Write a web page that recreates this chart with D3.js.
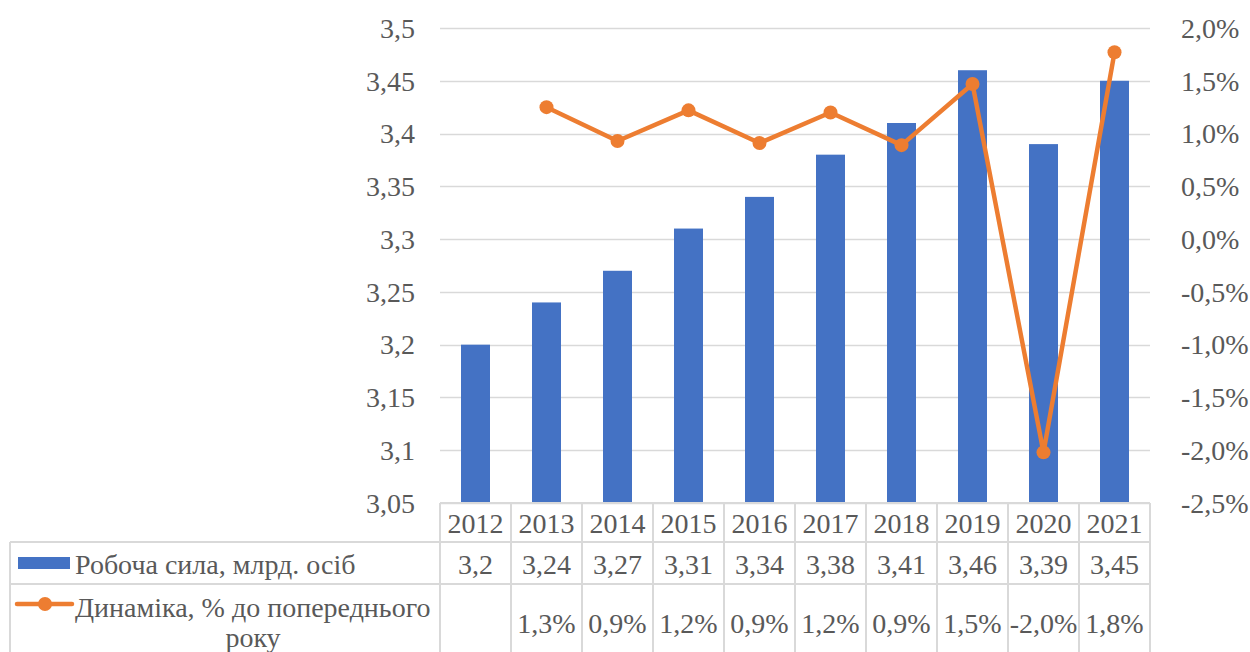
<!DOCTYPE html>
<html>
<head>
<meta charset="utf-8">
<script src="https://cdn.jsdelivr.net/npm/d3@7"></script>
</head>
<body style="margin:0">
<div id="chart"></div>
<script>
var years = ['2012', '2013', '2014', '2015', '2016', '2017', '2018', '2019', '2020', '2021'];
var labour = [3.2, 3.24, 3.27, 3.31, 3.34, 3.38, 3.41, 3.46, 3.39, 3.45]; // млрд. осіб
var dynamics = [null, 1.25, 0.93, 1.22, 0.91, 1.2, 0.89, 1.47, -2.02, 1.77]; // %
var leftTicks = [3.05, 3.1, 3.15, 3.2, 3.25, 3.3, 3.35, 3.4, 3.45, 3.5];
var rightTicks = [-2.5, -2, -1.5, -1, -0.5, 0, 0.5, 1, 1.5, 2];
var seriesNames = ['Робоча сила, млрд. осіб', 'Динаміка, % до попереднього', 'року'];

var w = 1250, h = 652;
var plotLeft = 440, plotRight = 1150, plotTop = 28, plotBottom = 503;
var fontSize = 28;
var gridColor = '#d9d9d9';

var comma = function (v, d) { return v.toFixed(d).replace('.', ','); };

var svg = d3.select('#chart').append('svg').attr('width', w).attr('height', h);

var x = d3.scaleBand().domain(years).range([plotLeft, plotRight]).paddingInner(0).paddingOuter(0);
var y = d3.scaleLinear().domain([3.05, 3.5]).range([plotBottom, plotTop]);
var y2 = d3.scaleLinear().domain([-2.5, 2]).range([plotBottom, plotTop]);

// helper: place a text at (tx, ty)
function label(g, tx, ty, anchor, str) {
  return g.append('text')
    .attr('x', tx)
    .attr('y', ty)
    .attr('dy', '0.35em')
    .attr('text-anchor', anchor)
    .style('font-family', "'Liberation Serif', 'Times New Roman', serif")
    .style('font-size', fontSize + 'px')
    .style('fill', '#595959')
    .text(str);
}

// gridlines
svg.append('g')
  .selectAll('line')
  .data(leftTicks)
  .enter()
  .append('line')
  .attr('x1', plotLeft).attr('x2', plotRight)
  .attr('y1', function (d) { return Math.round(y(d)) + 0.5; })
  .attr('y2', function (d) { return Math.round(y(d)) + 0.5; })
  .attr('stroke', gridColor).attr('stroke-width', 1.5);

// axis labels
var axisG = svg.append('g');
leftTicks.forEach(function (d) { label(axisG, 415, y(d), 'end', String(d).replace('.', ',')); });
rightTicks.forEach(function (d) { label(axisG, 1181, y2(d), 'start', comma(d, 1) + '%'); });

// bars
var barW = 29;
svg.append('g')
  .selectAll('rect')
  .data(labour)
  .enter()
  .append('rect')
  .attr('x', function (d, i) { return x(years[i]) + x.bandwidth() / 2 - barW / 2; })
  .attr('y', function (d) { return y(d); })
  .attr('width', barW)
  .attr('height', function (d) { return plotBottom - y(d); })
  .attr('fill', '#4472c4');

// line
var pts = dynamics.map(function (d, i) { return { v: d, yr: years[i] }; }).filter(function (d) { return d.v !== null; });
var line = d3.line()
  .x(function (d) { return x(d.yr) + x.bandwidth() / 2; })
  .y(function (d) { return y2(d.v); });
svg.append('path')
  .datum(pts)
  .attr('d', line)
  .attr('fill', 'none')
  .attr('stroke', '#ed7d31')
  .attr('stroke-width', 4.5)
  .attr('stroke-linejoin', 'round');
svg.append('g')
  .selectAll('circle')
  .data(pts)
  .enter()
  .append('circle')
  .attr('cx', function (d) { return x(d.yr) + x.bandwidth() / 2; })
  .attr('cy', function (d) { return y2(d.v); })
  .attr('r', 7)
  .attr('fill', '#ed7d31');

//---- data table
var row1 = 542, row2 = 584, tableBottom = 660;
var table = svg.append('g').attr('stroke', gridColor).attr('stroke-width', 2);
table.append('line').attr('x1', plotLeft).attr('x2', plotRight).attr('y1', plotBottom).attr('y2', plotBottom);
table.append('line').attr('x1', 10).attr('x2', plotRight).attr('y1', row1).attr('y2', row1);
table.append('line').attr('x1', 10).attr('x2', plotRight).attr('y1', row2).attr('y2', row2);
table.append('line').attr('x1', 10).attr('x2', 10).attr('y1', row1).attr('y2', tableBottom);
table.selectAll('line.v')
  .data(years.concat(['end']))
  .enter()
  .append('line')
  .attr('class', 'v')
  .attr('x1', function (d, i) { return plotLeft + i * x.bandwidth(); })
  .attr('x2', function (d, i) { return plotLeft + i * x.bandwidth(); })
  .attr('y1', plotBottom).attr('y2', tableBottom);

var cx = function (i) { return x(years[i]) + x.bandwidth() / 2; };
var tableG = svg.append('g');
years.forEach(function (d, i) { label(tableG, cx(i), 523, 'middle', d); });
labour.forEach(function (d, i) { label(tableG, cx(i), 564, 'middle', String(d).replace('.', ',')); });
dynamics.forEach(function (d, i) {
  if (d !== null) label(tableG, cx(i), 623, 'middle', comma(d, 1) + '%');
});

// legend keys
svg.append('rect').attr('x', 18).attr('y', 557).attr('width', 52).attr('height', 12).attr('fill', '#4472c4');
svg.append('line').attr('x1', 17).attr('x2', 72).attr('y1', 604).attr('y2', 604)
  .attr('stroke', '#ed7d31').attr('stroke-width', 4.5).attr('stroke-linecap', 'round');
svg.append('circle').attr('cx', 45).attr('cy', 604).attr('r', 7).attr('fill', '#ed7d31');

label(svg, 75, 564, 'start', seriesNames[0]);
label(svg, 75, 607, 'start', seriesNames[1]);
label(svg, 253, 637, 'middle', seriesNames[2]);
</script>
</body>
</html>
